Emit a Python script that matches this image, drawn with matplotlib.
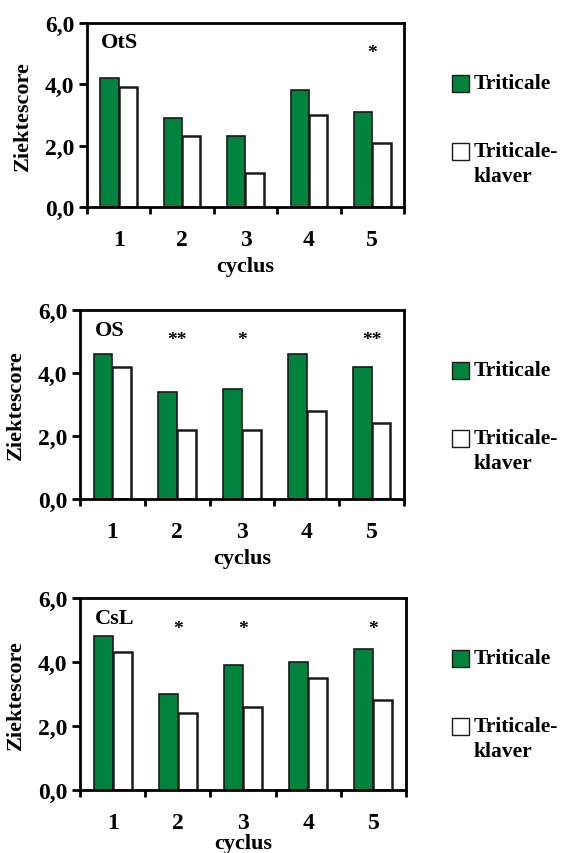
import matplotlib
matplotlib.use('Agg')
import matplotlib.pyplot as plt
from matplotlib.patches import Rectangle
from matplotlib.ticker import FuncFormatter, FixedLocator

plt.rcParams['font.family'] = ['Liberation Serif', 'DejaVu Serif']
plt.rcParams['font.weight'] = 'bold'
plt.rcParams['axes.labelweight'] = 'bold'

cycles = [1, 2, 3, 4, 5]
panel_names = ['OtS', 'OS', 'CsL']
triticale = {
    'OtS': [4.2, 2.9, 2.3, 3.8, 3.1],
    'OS': [4.6, 3.4, 3.5, 4.6, 4.2],
    'CsL': [4.8, 3.0, 3.9, 4.0, 4.4],
}
triticale_klaver = {
    'OtS': [3.9, 2.3, 1.1, 3.0, 2.1],
    'OS': [4.2, 2.2, 2.2, 2.8, 2.4],
    'CsL': [4.3, 2.4, 2.6, 3.5, 2.8],
}
# significance marks per cycle
signif = {
    'OtS': ['', '', '', '', '*'],
    'OS': ['', '**', '*', '', '**'],
    'CsL': ['', '*', '*', '', '*'],
}
yticks = [0.0, 2.0, 4.0, 6.0]
label_1 = 'Triticale'
label_2 = 'Triticale-\nklaver'

GREEN = '#00843d'
W = 568
H = 854
# axes boxes in pixels: left, top, right, bottom
boxes = [(87, 24, 404, 208), (80, 311, 404, 500), (80, 599, 406, 791)]

fig = plt.figure(figsize=(W / 100, H / 100), dpi=100)

for i, (name, (l, t, r, b)) in enumerate(zip(panel_names, boxes)):
    ax = fig.add_axes([l / W, (H - b) / H, (r - l) / W, (b - t) / H])
    bw = 0.29
    xs = list(range(len(cycles)))
    ax.bar([x - bw / 2 for x in xs], triticale[name], bw, color=GREEN,
           edgecolor='#1a1a1a', linewidth=1.2, zorder=2)
    ax.bar([x + bw / 2 for x in xs], triticale_klaver[name], bw, color='white',
           edgecolor='#1a1a1a', linewidth=1.8, zorder=2)

    for x, s in zip(xs, signif[name]):
        if s:
            ax.text(x, 5.05, s, ha='center', va='center', fontsize=14)

    ax.text(0.045, 5.38, name, transform=ax.get_yaxis_transform(),
            ha='left', va='center', fontsize=16)

    ax.set_xlim(-0.5, len(cycles) - 0.5)
    ax.set_ylim(0, 6)
    ax.set_yticks(yticks)
    ax.yaxis.set_major_formatter(FuncFormatter(lambda v, p: f'{v:.1f}'.replace('.', ',')))
    ax.set_xticks(xs)
    ax.set_xticklabels([str(c) for c in cycles])
    ax.xaxis.set_minor_locator(FixedLocator([x + 0.5 for x in [-1] + xs]))
    ax.tick_params(axis='x', which='major', length=0, pad=16, labelsize=17)
    ax.tick_params(axis='x', which='minor', length=5, width=2, direction='out')
    ax.tick_params(axis='y', length=6, width=2, direction='out', pad=3, labelsize=17)
    for sp in ax.spines.values():
        sp.set_linewidth(2)
    # last panel's label sits at the very bottom edge of the page
    ax.set_xlabel('cyclus', fontsize=16, labelpad=4 if i < 2 else 0)
    ax.set_ylabel('Ziektescore', fontsize=16, labelpad=9)

    # legend drawn at the right side of the panel
    sq = 17
    for fc, lab, dy in [(GREEN, label_1, 60), ('white', label_2, 128)]:
        cy = t + dy
        rx = 452
        fig.patches.append(Rectangle((rx / W, (H - cy - sq / 2) / H), sq / W, sq / H,
                                     transform=fig.transFigure, facecolor=fc,
                                     edgecolor='#1a1a1a', linewidth=1.0))
        lines = lab.split('\n')
        for k, line in enumerate(lines):
            fig.text(474 / W, (H - cy - 25 * k) / H, line, ha='left', va='center',
                     fontsize=15.5)

fig.savefig('out.png', dpi=100)
